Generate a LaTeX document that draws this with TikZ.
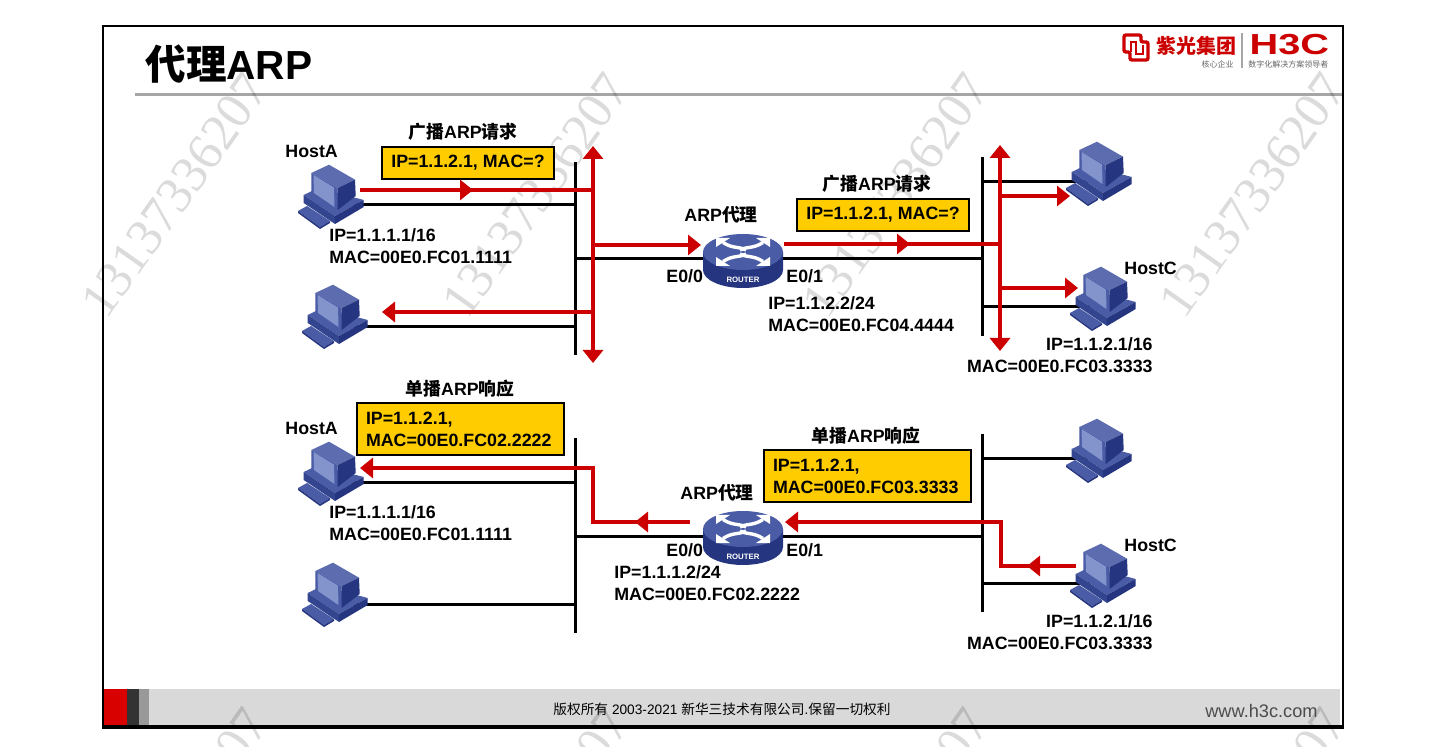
\documentclass[tikz,border=0pt]{standalone}
\usepackage{fontspec}
\setmainfont{Liberation Sans}
\newfontfamily\cjk{Noto Sans CJK SC}
\newfontfamily\wmfont{Liberation Serif}
\usetikzlibrary{arrows.meta}
\definecolor{h3cred}{HTML}{CC0000}
\definecolor{boxgold}{HTML}{FFCC00}
\definecolor{pcfront}{HTML}{4A5CA6}
\definecolor{pcscreen}{HTML}{8393CB}
\definecolor{pcdark}{HTML}{25357F}
\definecolor{pcmid}{HTML}{33458F}
\tikzset{
  lbl/.style={font=\bfseries\fontsize{8.9}{11}\selectfont, inner sep=0pt},
  infobox/.style={lbl, draw=black, line width=.6pt, fill=boxgold, minimum width=86pt, minimum height=16pt},
  longbox/.style={lbl, draw=black, line width=.6pt, fill=boxgold, inner xsep=4.5pt, text width=94.5pt, minimum height=26pt, align=left},
  bus/.style={line width=1.5pt},
  wire/.style={line width=1.5pt},
  redline/.style={line width=1.65pt, color=h3cred},
  redtip/.style={redline, -{Triangle[length=6.5pt,width=10pt]}},
  pics/hostpc/.style={code={
    \fill[pcfront] (8,51) -- (17,46) -- (40,61) -- (30,67) -- cycle;
    \fill[pcdark] (8,51) -- (30,67) -- (30,69) -- (8,53) -- cycle;
    \fill[pcdark] (30,67) -- (40,61) -- (40,63) -- (30,69) -- cycle;
    \fill[pcfront] (13.7,35) -- (28,28) -- (73.7,40) -- (45,56) -- cycle;
    \fill[pcmid] (13.7,35) -- (45,56) -- (45,64) -- (13.7,43) -- cycle;
    \fill[pcdark] (45,56) -- (73.7,40) -- (73.7,47) -- (45,64) -- cycle;
    \fill[pcfront!90!white] (21.3,13) -- (39,4.7) -- (65,19.7) -- (47.7,28) -- cycle;
    \fill[pcfront] (21.3,13) -- (47.7,28) -- (47.7,50) -- (21.3,33) -- cycle;
    \fill[pcdark] (47.7,28) -- (65,19.7) -- (65.7,36) -- (47.7,50) -- cycle;
    \fill[pcscreen] (23.5,15) -- (44,27.5) -- (44.5,47) -- (24,33) -- cycle;
  }},
  pics/routerbox/.style={code={
    \fill[pcdark] (-40,0) -- (-40,18) arc[start angle=180, end angle=0, x radius=40, y radius=18] -- (40,0) -- cycle;
    \fill[pcfront] (0,0) ellipse[x radius=40, y radius=18];
    \foreach \sx/\sy in {-1/-1, 1/-1, -1/1, 1/1} {
      \fill[white] (\sx*27,\sy*14) -- (\sx*13,\sy*14) -- (\sx*27,\sy*5) -- cycle;
      \draw[white, line width=1.7pt] (\sx*20,\sy*9.5) .. controls (\sx*10,\sy*3) and (\sx*5,\sy*6) .. (\sx*-3,\sy*2);
    }
    \node[font=\bfseries\fontsize{3.9}{4}\selectfont, text=white, inner sep=0pt] (-txt) at (0,28) {ROUTER};
  }},
}
\begin{document}
\begin{tikzpicture}[x=.5pt, y=-.5pt]
  \useasboundingbox (0,0) rectangle (1443,747);
  % slide
  \fill[white] (0,0) rectangle (1443,747);
  \fill[black!15] (104,689) rectangle (1340,725);
  \fill[red!85!black] (104,689) rectangle (127,725);
  \fill[black!80] (127,689) rectangle (139,725);
  \fill[black!40] (139,689) rectangle (149,725);
  \draw[line width=1.2pt] (103,26) rectangle (1343,726);
  \draw[line width=2pt] (102,727) -- (1344,727);
  \draw[black!35, line width=1.5pt] (135,95) -- (1342,95);
  % watermark
  \begin{scope}
    \clip (0,0) rectangle (1443,747);
    \foreach \wx/\wy/\wn in {175/195/a, 536/195/b, 896/195/c, 1253/195/d, 175/830/e, 536/830/f, 896/830/g, 1253/830/h}
      \node[font=\wmfont\fontsize{25.8}{26}\selectfont, text=black, opacity=.14, rotate=54.7, inner sep=0pt] (wm\wn) at (\wx,\wy) {13137336207};
  \end{scope}
  % title and logo
  \node[anchor=west, font=\bfseries\fontsize{20.3}{22}\selectfont, inner sep=0pt] (title) at (145,64) {{\cjk 代理}ARP};
  \draw[h3cred, line width=1.7pt, rounded corners=1pt] (1124,35) -- (1141,35) -- (1141,42) -- (1148,42) -- (1148,60) -- (1130,60) -- (1130,52) -- (1124,52) -- cycle;
  \draw[h3cred, line width=1.3pt] (1131,52) -- (1131,42) -- (1136,42) -- (1136,54) -- (1143,54) -- (1143,45);
  \node[anchor=west, font=\cjk\bfseries\fontsize{10}{10}\selectfont, text=h3cred, inner sep=0pt] (logoa) at (1156,46) {紫光集团};
  \node[anchor=west, font=\bfseries\fontsize{14.5}{16}\selectfont, text=h3cred, inner sep=0pt, xscale=1.37] (logob) at (1249,44.5) {H3C};
  \node[anchor=east, font=\cjk\fontsize{4}{4}\selectfont, text=black!60, inner sep=0pt] (logoc) at (1234,64) {核心企业};
  \node[anchor=west, font=\cjk\fontsize{4}{4}\selectfont, text=black!60, inner sep=0pt] (logod) at (1248,64) {数字化解决方案领导者};
  \draw[black!35, line width=.6pt] (1242,33) -- (1242,68);
  \node[font=\fontsize{6.85}{8}\selectfont, inner sep=0pt] (foot) at (722,709) {{\cjk 版权所有} 2003-2021 {\cjk 新华三技术有限公司}.{\cjk 保留一切权利}};
  \node[anchor=east, font=\fontsize{9.1}{10}\selectfont, text=black!70, inner sep=0pt] (web) at (1318,711) {www.h3c.com};
  % buses
  \coordinate (busAt) at (575,162);
  \coordinate (busAb) at (575,355);
  \coordinate (busBt) at (982,157);
  \coordinate (busBb) at (982,336);
  \coordinate (busCt) at (575,438);
  \coordinate (busCb) at (575,633);
  \coordinate (busDt) at (982,434);
  \coordinate (busDb) at (982,612);
  \draw[bus] (busAt) -- (busAb);
  \draw[bus] (busBt) -- (busBb);
  \draw[bus] (busCt) -- (busCb);
  \draw[bus] (busDt) -- (busDb);
  % upper network
  \coordinate (upAt) at (593,146);
  \coordinate (upAb) at (593,363);
  \coordinate (upBt) at (1000,145);
  \coordinate (upBb) at (1000,351);
  \coordinate (r1) at (360,190);
  \coordinate (r1m) at (473,190);
  \coordinate (r1e) at (593,190);
  \coordinate (r2) at (593,312);
  \coordinate (r2e) at (382,312);
  \coordinate (r3) at (593,245);
  \coordinate (r3e) at (701,245);
  \coordinate (r4) at (784,244);
  \coordinate (r4m) at (910,244);
  \coordinate (r4e) at (1000,244);
  \coordinate (r5) at (1000,196);
  \coordinate (r5e) at (1070,196);
  \coordinate (r6) at (1000,288);
  \coordinate (r6e) at (1078,288);
  \coordinate (w1) at (345,205);
  \coordinate (w2) at (345,327);
  \coordinate (w3) at (1090,182);
  \coordinate (w4) at (1090,307);
  \coordinate (w5) at (743,259);
  \draw[wire] (w1) -- (w1 -| busAt);
  \draw[wire] (w2) -- (w2 -| busAt);
  \draw[wire] (w3) -- (w3 -| busBt);
  \draw[wire] (w4) -- (w4 -| busBt);
  \draw[wire] (busAt |- w5) -- (busBt |- w5);
  \pic (hostA) at (290,160) {hostpc};
  \pic (hostB) at (294,280) {hostpc};
  \pic (hostD) at (1058,137) {hostpc};
  \pic (hostC) at (1062,262) {hostpc};
  \pic (rtrA) at (743,252) {routerbox};
  \draw[redline, {Triangle[length=6.5pt,width=10pt]}-{Triangle[length=6.5pt,width=10pt]}] (upAt) -- (upAb);
  \draw[redline, {Triangle[length=6.5pt,width=10pt]}-{Triangle[length=6.5pt,width=10pt]}] (upBt) -- (upBb);
  \draw[redline] (r1) -- (r1e);
  \draw[redtip] (r1) -- (r1m);
  \draw[redtip] (r2) -- (r2e);
  \draw[redtip] (r3) -- (r3e);
  \draw[redline] (r4) -- (r4e);
  \draw[redtip] (r4) -- (r4m);
  \draw[redtip] (r5) -- (r5e);
  \draw[redtip] (r6) -- (r6e);
  % lower network
  \coordinate (s1) at (593,468);
  \coordinate (s1e) at (360,468);
  \coordinate (s2) at (593,522);
  \coordinate (s2m) at (635,522);
  \coordinate (s2e) at (690,522);
  \coordinate (s3) at (1001,522);
  \coordinate (s3e) at (785,522);
  \coordinate (s4) at (1001,566);
  \coordinate (s4m) at (1027,566);
  \coordinate (s4e) at (1076,566);
  \coordinate (w6) at (345,483);
  \coordinate (w7) at (345,604);
  \coordinate (w8) at (1090,459);
  \coordinate (w9) at (1090,583);
  \coordinate (w10) at (743,536);
  \draw[wire] (w6) -- (w6 -| busCt);
  \draw[wire] (w7) -- (w7 -| busCt);
  \draw[wire] (w8) -- (w8 -| busDt);
  \draw[wire] (w9) -- (w9 -| busDt);
  \draw[wire] (busCt |- w10) -- (busDt |- w10);
  \pic (hostE) at (290,437) {hostpc};
  \pic (hostF) at (294,558) {hostpc};
  \pic (hostH) at (1058,414) {hostpc};
  \pic (hostG) at (1062,539) {hostpc};
  \pic (rtrB) at (743,529) {routerbox};
  \draw[redtip] (s2e) -- (s2) -- (s1) -- (s1e);
  \draw[redtip] (s2e) -- (s2m);
  \draw[redtip] (s4e) -- (s4) -- (s3) -- (s3e);
  \draw[redtip] (s4e) -- (s4m);
  % texts
  \node[lbl] (headA) at (463,132) {{\cjk 广播}ARP{\cjk 请求}};
  \node[infobox] (boxA) at (468,163) {IP=1.1.2.1, MAC=?};
  \node[lbl] (headB) at (877,184) {{\cjk 广播}ARP{\cjk 请求}};
  \node[infobox] (boxB) at (883,215) {IP=1.1.2.1, MAC=?};
  \node[lbl] (headC) at (460,389) {{\cjk 单播}ARP{\cjk 响应}};
  \node[longbox] (boxC) at (460.5,429) {IP=1.1.2.1,\\MAC=00E0.FC02.2222};
  \node[lbl] (headD) at (866,436) {{\cjk 单播}ARP{\cjk 响应}};
  \node[longbox] (boxD) at (867.5,476) {IP=1.1.2.1,\\MAC=00E0.FC03.3333};
  \node[lbl, anchor=west] (nameA) at (285,151) {HostA};
  \node[lbl, anchor=west] (nameB) at (285,428) {HostA};
  \node[lbl, anchor=west] (nameC) at (1124,268) {HostC};
  \node[lbl, anchor=west] (nameD) at (1124,545) {HostC};
  \node[lbl] (proxyA) at (721,215) {ARP{\cjk 代理}};
  \node[lbl] (proxyB) at (717,493) {ARP{\cjk 代理}};
  \node[lbl, anchor=west] (portA) at (666,276) {E0/0};
  \node[lbl, anchor=west] (portB) at (786,276) {E0/1};
  \node[lbl, anchor=west] (portC) at (666,550) {E0/0};
  \node[lbl, anchor=west] (portD) at (786,550) {E0/1};
  \node[lbl, anchor=west, align=left] (addrA) at (329,246) {IP=1.1.1.1/16\\MAC=00E0.FC01.1111};
  \node[lbl, anchor=west, align=left] (addrB) at (329,523) {IP=1.1.1.1/16\\MAC=00E0.FC01.1111};
  \node[lbl, anchor=west, align=left] (addrC) at (768,314) {IP=1.1.2.2/24\\MAC=00E0.FC04.4444};
  \node[lbl, anchor=west, align=left] (addrD) at (614,583) {IP=1.1.1.2/24\\MAC=00E0.FC02.2222};
  \node[lbl, anchor=east, align=right] (addrE) at (1153,355) {IP=1.1.2.1/16\\MAC=00E0.FC03.3333};
  \node[lbl, anchor=east, align=right] (addrF) at (1153,632) {IP=1.1.2.1/16\\MAC=00E0.FC03.3333};
\end{tikzpicture}
\end{document}
